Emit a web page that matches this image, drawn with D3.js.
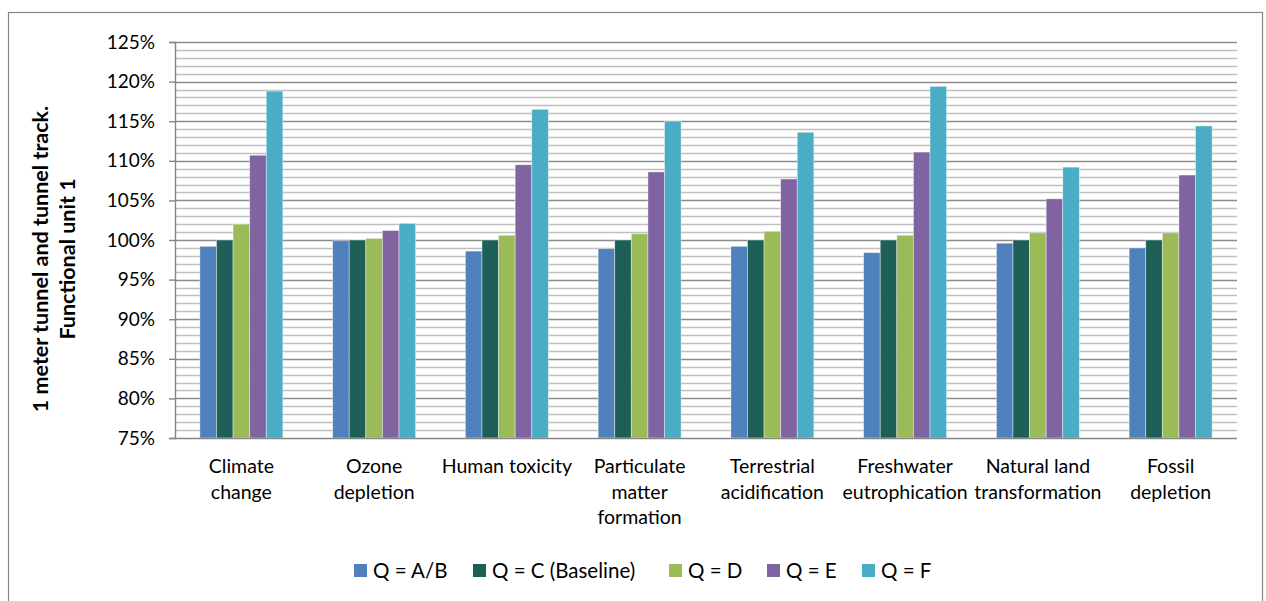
<!DOCTYPE html>
<html>
<head>
<meta charset="utf-8">
<script src="https://cdn.jsdelivr.net/npm/d3@7"></script>
<style>
  body { margin: 0; background: #fff; }
  svg text { font-family: Lato, "Liberation Sans", sans-serif; fill: #000; }
</style>
</head>
<body>
<svg id="chart" width="1266" height="601"></svg>
<script>
const categories = [
  ['Climate', 'change'],
  ['Ozone', 'depletion'],
  ['Human toxicity'],
  ['Particulate', 'matter', 'formation'],
  ['Terrestrial', 'acidification'],
  ['Freshwater', 'eutrophication'],
  ['Natural land', 'transformation'],
  ['Fossil', 'depletion'],
];
const seriesNames = ['Q = A/B', 'Q = C (Baseline)', 'Q = D', 'Q = E', 'Q = F'];
const seriesColors = ['#4f81bd', '#1e5f57', '#9bbb59', '#8064a2', '#4bacc6'];
const qAB = [99.2, 99.9, 98.6, 98.9, 99.2, 98.4, 99.6, 99.0];
const qC = [100, 100, 100, 100, 100, 100, 100, 100];
const qD = [102.0, 100.2, 100.6, 100.8, 101.1, 100.6, 100.9, 100.9];
const qE = [110.7, 101.2, 109.5, 108.6, 107.7, 111.1, 105.2, 108.2];
const qF = [118.8, 102.1, 116.5, 115.0, 113.6, 119.4, 109.2, 114.4];
const seriesValues = [qAB, qC, qD, qE, qF];
const yTicks = [75, 80, 85, 90, 95, 100, 105, 110, 115, 120, 125];

const svg = d3.select('#chart');
const plotL = 175, plotR = 1237, plotT = 42, plotB = 438;

// outer chart border
svg.append('rect')
  .attr('x', 8.5).attr('y', 12.5)
  .attr('width', 1254).attr('height', 620)
  .attr('fill', 'none').attr('stroke', '#868686').attr('stroke-width', 1.2);

const y = d3.scaleLinear().domain([75, 125]).range([plotB, plotT]);
const x0 = d3.scaleBand().domain(d3.range(categories.length)).range([plotL, plotR]);
const barW = x0.bandwidth() / 8;

// minor gridlines every 1%
svg.append('g')
  .selectAll('line')
  .data(d3.range(76, 125).filter((v) => v % 5 !== 0))
  .enter().append('line')
  .attr('x1', plotL).attr('x2', plotR)
  .attr('y1', (d) => Math.round(y(d)) + 0.5).attr('y2', (d) => Math.round(y(d)) + 0.5)
  .attr('stroke', '#bfbfbf').attr('stroke-width', 1.4);

// major gridlines
svg.append('g')
  .selectAll('line')
  .data(yTicks.filter((v) => v > 75))
  .enter().append('line')
  .attr('x1', plotL).attr('x2', plotR)
  .attr('y1', (d) => Math.round(y(d)) + 0.5).attr('y2', (d) => Math.round(y(d)) + 0.5)
  .attr('stroke', '#8c8c8c').attr('stroke-width', 1.4);

// bars
seriesValues.forEach((vals, s) => {
  svg.append('g')
    .selectAll('rect')
    .data(vals)
    .enter().append('rect')
    .attr('x', (d, i) => x0(i) + barW * 1.5 + s * barW)
    .attr('y', (d) => y(d))
    .attr('width', barW)
    .attr('height', (d) => y(75) - y(d))
    .attr('fill', seriesColors[s])
    .attr('stroke', '#ffffff').attr('stroke-opacity', 0.5).attr('stroke-width', 0.8);
});

// y axis
const yAxis = d3.axisLeft(y).tickValues(yTicks).tickSize(6).tickFormat((d) => d + '%');
const gy = svg.append('g').attr('transform', `translate(${plotL},0)`).call(yAxis);
gy.select('.domain').attr('stroke', '#868686').attr('stroke-width', 1.4);
gy.selectAll('.tick line').attr('stroke', '#868686').attr('stroke-width', 1.4);
gy.selectAll('.tick text').attr('x', -20).attr('font-size', 19).style('font-family', 'Lato, sans-serif');

// x axis line
svg.append('line')
  .attr('x1', plotL).attr('x2', plotR)
  .attr('y1', plotB + 0.5).attr('y2', plotB + 0.5)
  .attr('stroke', '#868686').attr('stroke-width', 1.4);

// category labels
const lab = svg.append('g')
  .selectAll('text')
  .data(categories)
  .enter().append('text')
  .attr('text-anchor', 'middle')
  .attr('font-size', 19.5);
lab.selectAll('tspan')
  .data((d, i) => d.map((t) => ({ t, i })))
  .enter().append('tspan')
  .attr('x', (d) => x0(d.i) + x0.bandwidth() / 2)
  .attr('y', (d, k) => 473 + k * 25.7)
  .text((d) => d.t);

// y axis title
const title = svg.append('text')
  .attr('transform', 'translate(0,259) rotate(-90)')
  .attr('text-anchor', 'middle')
  .attr('font-size', 21.5)
  .attr('font-weight', 'bold');
title.append('tspan').attr('x', 0).attr('y', 48).text('1 meter tunnel and tunnel track.');
title.append('tspan').attr('x', 0).attr('y', 75).text('Functional unit 1');

// legend
const legendX = [354, 473, 669, 767, 862];
const lg = svg.append('g')
  .selectAll('g')
  .data(seriesNames)
  .enter().append('g')
  .attr('transform', (d, i) => `translate(${legendX[i]},564)`);
lg.append('rect').attr('width', 13).attr('height', 13).attr('fill', (d, i) => seriesColors[i]);
lg.append('text').attr('x', 19).attr('y', 14).attr('font-size', 20.5).text((d) => d);
</script>
</body>
</html>
